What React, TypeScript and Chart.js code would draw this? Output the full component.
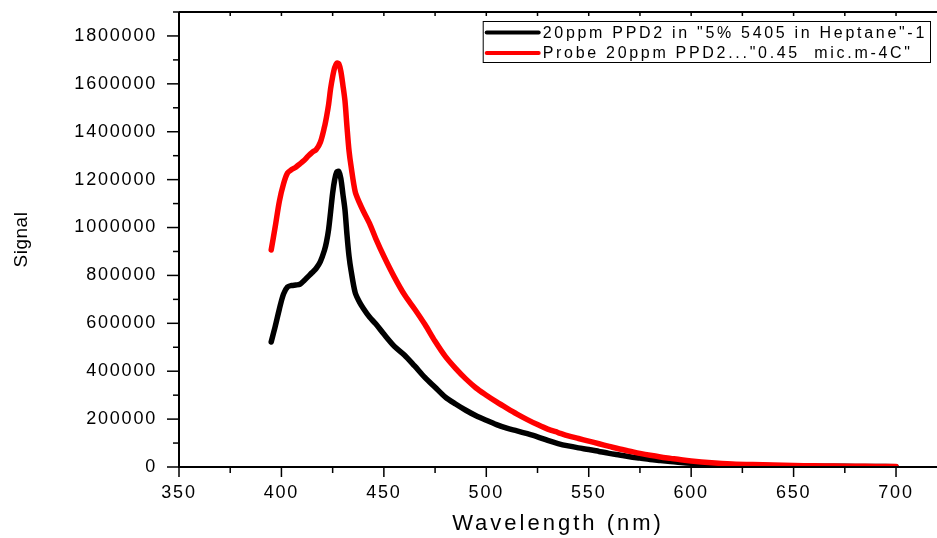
import React, { useEffect, useRef } from 'react';
import { Chart, registerables } from 'chart.js';

Chart.register(...registerables);

const FONT = '"Liberation Sans", Arial, Helvetica, sans-serif';

// Wavelength (nm) sample positions
const wavelengths = [
  395, 397, 399, 401, 403, 405, 407, 409, 411, 413, 415, 417, 419, 421, 422, 423, 424, 425, 426, 427,
  428, 429, 430, 431, 432, 433, 434, 436, 438, 440, 443, 446, 450, 455, 460, 465, 470, 475, 480, 485,
  490, 495, 500, 505, 510, 515, 520, 525, 530, 535, 540, 545, 550, 555, 560, 565, 570, 575, 580, 585,
  590, 595, 600, 610, 620, 630, 640, 650, 660, 670, 680, 690, 700,
];

// Series 1 (black): 20ppm PPD2 in "5% 5405 in Heptane"-1
const signalHeptane = [
  522000, 588000, 660000, 722000, 752000, 758000, 760000, 763000, 778000, 795000, 812000, 830000, 858000, 905000, 940000, 990000, 1065000, 1144000, 1200000, 1232000,
  1234000, 1205000, 1140000, 1075000, 970000, 880000, 820000, 728000, 690000, 662000, 626000, 598000, 555000, 505000, 468000, 422000, 374000, 333000, 292000, 263000,
  237000, 214000, 195000, 177000, 162000, 151000, 139000, 126000, 111000, 98000, 88000, 80000, 73000, 65000, 57000, 50000, 43000, 37000, 31000, 27000,
  23000, 19000, 16000, 12000, 9000, 7000, 5500, 4500, 3500, 3000, 2500, 2000, 1500,
];

// Series 2 (red): Probe 20ppm PPD2..."0.45  mic.m-4C"
const signalProbe = [
  906000, 1005000, 1110000, 1182000, 1228000, 1242000, 1252000, 1266000, 1280000, 1298000, 1314000, 1326000, 1356000, 1420000, 1462000, 1512000, 1580000, 1630000, 1668000, 1686000,
  1684000, 1652000, 1595000, 1530000, 1420000, 1320000, 1255000, 1150000, 1105000, 1068000, 1017000, 955000, 880000, 795000, 720000, 660000, 596000, 525000, 462000, 412000,
  368000, 330000, 300000, 272000, 246000, 221000, 198000, 177000, 158000, 144000, 130000, 119000, 108000, 97000, 86000, 75000, 66000, 57000, 49000, 42000,
  36000, 30000, 25000, 18000, 13000, 10000, 8000, 6000, 5000, 4000, 3000, 2500, 2000,
];

const seriesLabels = ['20ppm PPD2 in "5% 5405 in Heptane"-1', 'Probe 20ppm PPD2..."0.45  mic.m-4C"'];
const seriesColors = ['#000000', '#ff0000'];

const xMin = 350;
const xMax = 720;
const xTickValues = [350, 400, 450, 500, 550, 600, 650, 700];
const xMinorTickValues = [375, 425, 475, 525, 575, 625, 675];
const yMin = 0;
const yMax = 1900000;
const yTickValues = [0, 200000, 400000, 600000, 800000, 1000000, 1200000, 1400000, 1600000, 1800000];
const yMinorTickValues = [100000, 300000, 500000, 700000, 900000, 1100000, 1300000, 1500000, 1700000, 1900000];

const xTitle = 'Wavelength (nm)';
const yTitle = 'Signal';

const decorPlugin = {
  id: 'decor',
  beforeUpdate(chart: any) {
    chart.ctx.letterSpacing = '1.8px';
  },
  beforeDraw(chart: any) {
    chart.ctx.letterSpacing = '1.8px';
  },
  afterDraw(chart: any) {
    const ctx = chart.ctx as CanvasRenderingContext2D;
    const { left, right, top, bottom } = chart.chartArea;
    const xs = chart.scales.x;
    const ys = chart.scales.y;
    ctx.save();
    ctx.strokeStyle = '#000';
    ctx.lineCap = 'butt';
    // axis frame lines
    ctx.lineWidth = 2;
    ctx.beginPath();
    ctx.moveTo(left, top);
    ctx.lineTo(right, top);
    ctx.moveTo(left, top);
    ctx.lineTo(left, bottom);
    ctx.lineTo(right, bottom);
    ctx.stroke();

    ctx.lineWidth = 1.5;
    const drawX = (v: number, len: number) => {
      const px = xs.getPixelForValue(v);
      ctx.beginPath();
      ctx.moveTo(px, bottom);
      ctx.lineTo(px, bottom + len);
      ctx.moveTo(px, top);
      ctx.lineTo(px, top + 4);
      ctx.stroke();
    };
    xTickValues.forEach((v) => drawX(v, 10));
    xMinorTickValues.forEach((v) => drawX(v, 6));
    const drawY = (v: number, len: number) => {
      const py = ys.getPixelForValue(v);
      ctx.beginPath();
      ctx.moveTo(left, py);
      ctx.lineTo(left - len, py);
      ctx.stroke();
    };
    yTickValues.forEach((v) => drawY(v, 12));
    yMinorTickValues.forEach((v) => drawY(v, 6));

    // axis titles
    ctx.fillStyle = '#000';
    ctx.textBaseline = 'middle';
    ctx.textAlign = 'center';
    ctx.font = `22px ${FONT}`;
    ctx.letterSpacing = '3px';
    ctx.fillText(xTitle, (left + right) / 2, 524);

    ctx.save();
    ctx.translate(22, (top + bottom) / 2);
    ctx.rotate(-Math.PI / 2);
    ctx.font = `19px ${FONT}`;
    ctx.letterSpacing = '0.5px';
    ctx.fillText(yTitle, 0, 0);
    ctx.restore();

    // legend
    const datasets = chart.data.datasets;
    ctx.font = `16px ${FONT}`;
    ctx.letterSpacing = '2.7px';
    let maxW = 0;
    datasets.forEach((d: any) => {
      maxW = Math.max(maxW, ctx.measureText(d.label).width);
    });
    const boxRight = right - 6;
    const boxTop = top + 9;
    const boxW = 60 + maxW + 4;
    const boxH = 42;
    const boxLeft = boxRight - boxW;
    ctx.fillStyle = '#fff';
    ctx.fillRect(boxLeft, boxTop, boxW, boxH);
    ctx.lineWidth = 1;
    ctx.strokeStyle = '#000';
    ctx.strokeRect(boxLeft + 0.5, boxTop + 0.5, boxW - 1, boxH - 1);
    datasets.forEach((d: any, i: number) => {
      const cy = boxTop + 11.5 + i * 20.5;
      ctx.strokeStyle = d.borderColor;
      ctx.lineWidth = 4;
      ctx.lineCap = 'round';
      ctx.beginPath();
      ctx.moveTo(boxLeft + 4, cy);
      ctx.lineTo(boxLeft + 56, cy);
      ctx.stroke();
      ctx.fillStyle = '#000';
      ctx.textAlign = 'left';
      ctx.textBaseline = 'middle';
      ctx.fillText(d.label, boxLeft + 60, cy + 1);
    });
    ctx.restore();
    ctx.letterSpacing = '1.8px';
  },
};

export default function App() {
  const canvasRef = useRef<HTMLCanvasElement | null>(null);

  useEffect(() => {
    const canvas = canvasRef.current;
    if (!canvas) return;
    const chart = new Chart(canvas, {
      type: 'line',
      data: {
        datasets: [
          {
            label: seriesLabels[0],
            data: wavelengths.map((w, i) => ({ x: w, y: signalHeptane[i] })),
            borderColor: seriesColors[0],
            backgroundColor: seriesColors[0],
            borderWidth: 5.5,
            pointRadius: 0,
            tension: 0.3,
            borderCapStyle: 'round',
            borderJoinStyle: 'round',
            order: 2,
          },
          {
            label: seriesLabels[1],
            data: wavelengths.map((w, i) => ({ x: w, y: signalProbe[i] })),
            borderColor: seriesColors[1],
            backgroundColor: seriesColors[1],
            borderWidth: 5.5,
            pointRadius: 0,
            tension: 0.3,
            borderCapStyle: 'round',
            borderJoinStyle: 'round',
            order: 1,
          },
        ],
      },
      options: {
        animation: false,
        responsive: false,
        devicePixelRatio: 1,
        layout: { padding: { top: 12, right: 0, bottom: 0, left: 0 } },
        plugins: {
          legend: { display: false },
          tooltip: { enabled: false },
          title: { display: false },
        },
        scales: {
          x: {
            type: 'linear',
            min: xMin,
            max: xMax,
            afterBuildTicks: (s: any) => {
              s.ticks = xTickValues.map((v) => ({ value: v }));
            },
            afterFit: (s: any) => {
              s.height = 71;
              s.paddingLeft = 0;
              s.paddingRight = 0;
            },
            border: { display: false },
            grid: { display: false, drawTicks: false },
            ticks: {
              autoSkip: false,
              maxRotation: 0,
              padding: 15,
              color: '#000',
              font: { family: FONT, size: 18 },
              callback: (v: any) => String(v),
            },
          },
          y: {
            type: 'linear',
            min: yMin,
            max: yMax,
            afterBuildTicks: (s: any) => {
              s.ticks = yTickValues.map((v) => ({ value: v }));
            },
            afterFit: (s: any) => {
              s.width = 179;
              s.paddingTop = 0;
              s.paddingBottom = 0;
            },
            border: { display: false },
            grid: { display: false, drawTicks: false },
            ticks: {
              autoSkip: false,
              padding: 22,
              color: '#000',
              font: { family: FONT, size: 18 },
              callback: (v: any) => String(v),
            },
          },
        },
      },
      plugins: [decorPlugin],
    } as any);
    return () => chart.destroy();
  }, []);

  return (
    <div style={{ position: 'fixed', left: 0, top: 0, width: 937, height: 538, background: '#fff' }}>
      <canvas ref={canvasRef} width={937} height={538} />
    </div>
  );
}
